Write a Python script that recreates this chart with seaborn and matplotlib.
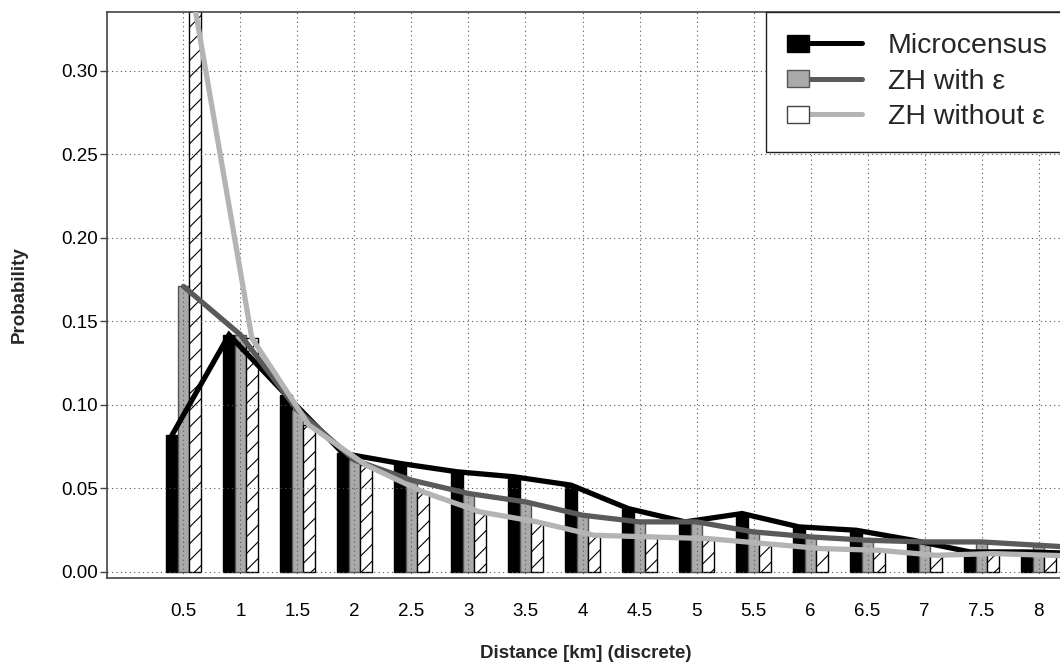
import numpy as np
import pandas as pd
import matplotlib
matplotlib.use("Agg")
import matplotlib.pyplot as plt
import seaborn as sns
from matplotlib.legend_handler import HandlerBase
from matplotlib.patches import Rectangle
from matplotlib.lines import Line2D

# ---------------- data ----------------
distance = [0.5, 1, 1.5, 2, 2.5, 3, 3.5, 4, 4.5, 5, 5.5, 6, 6.5, 7, 7.5, 8, 8.5]
tick_labels = ["0.5", "1", "1.5", "2", "2.5", "3", "3.5", "4", "4.5", "5",
               "5.5", "6", "6.5", "7", "7.5", "8", "8.5"]
microcensus = [0.082, 0.142, 0.106, 0.071, 0.065, 0.060, 0.057, 0.052, 0.038,
               0.030, 0.035, 0.027, 0.025, 0.019, 0.012, 0.012, 0.011]
zh_with_eps = [0.171, 0.142, 0.097, 0.067, 0.055, 0.047, 0.042, 0.034, 0.030,
               0.030, 0.024, 0.021, 0.019, 0.018, 0.018, 0.016, 0.014]
zh_without_eps = [0.338, 0.140, 0.088, 0.064, 0.048, 0.036, 0.030, 0.022, 0.021,
                  0.020, 0.017, 0.014, 0.013, 0.010, 0.011, 0.010, 0.009]
series_names = ["Microcensus", "ZH with ε", "ZH without ε"]
y_ticks = [0.00, 0.05, 0.10, 0.15, 0.20, 0.25, 0.30]
y_tick_labels = ["0.00", "0.05", "0.10", "0.15", "0.20", "0.25", "0.30"]

# ---------------- styling ----------------
bar_face = ["#000000", "#aaaaaa", "#ffffff"]
bar_edge = ["#000000", "#555555", "#000000"]
bar_hatch = [None, None, "//"]
line_colors = ["#000000", "#5a5a5a", "#b4b4b4"]
line_offsets = [-0.1, 0.0, 0.1]

sns.set_theme(style="white")
plt.rcParams["font.family"] = ["Liberation Sans", "DejaVu Sans"]
plt.rcParams["hatch.linewidth"] = 0.8
plt.rcParams["hatch.color"] = "black"

long = pd.DataFrame({
    "distance": distance * 3,
    "prob": microcensus + zh_with_eps + zh_without_eps,
    "series": [series_names[0]] * len(distance) + [series_names[1]] * len(distance)
              + [series_names[2]] * len(distance),
})

fig = plt.figure(figsize=(10.6, 6.68), dpi=100)
ax = fig.add_axes([107.3 / 1060, 90 / 668, (1065 - 107.3) / 1060, (578 - 12) / 668])

sns.barplot(data=long, x="distance", y="prob", hue="series", hue_order=series_names,
            native_scale=True, width=0.6, dodge=True, palette=bar_face,
            saturation=1, errorbar=None, legend=False, ax=ax)

for cont, fc, ec, h in zip(ax.containers, bar_face, bar_edge, bar_hatch):
    for p in cont.patches:
        p.set_facecolor(fc)
        p.set_edgecolor(ec)
        p.set_linewidth(1.0)
        p.set_zorder(1)
        if h:
            p.set_hatch(h)

for vals, col, off in zip([microcensus, zh_with_eps, zh_without_eps], line_colors, line_offsets):
    sns.lineplot(x=np.array(distance) + off, y=vals, color=col, linewidth=3.8,
                 ax=ax, zorder=3, solid_joinstyle="miter")

ax.set_xticks(distance)
ax.set_xticklabels(tick_labels)
ax.set_yticks(y_ticks)
ax.set_yticklabels(y_tick_labels)
ax.set_xlim(-0.168, 8.232)
ax.set_ylim(-0.0036, 0.3353)

ax.set_axisbelow(False)
ax.grid(True, color="#555555", linestyle=(0, (1, 3)), linewidth=0.8)
for gl in ax.get_xgridlines() + ax.get_ygridlines():
    gl.set_zorder(2)

for s in ["left", "bottom", "top", "right"]:
    ax.spines[s].set_color("#444444")
    ax.spines[s].set_linewidth(1.2)

ax.tick_params(axis="x", length=0, pad=18, labelsize=13.5, colors="black")
ax.tick_params(axis="y", length=5, width=1.0, pad=2, labelsize=13.5, colors="black",
               left=True, direction="out")
ax.tick_params(axis="y", color="#444444")

ax.set_xlabel("Distance [km] (discrete)", fontsize=13.5, fontweight="bold", labelpad=18)
ax.set_ylabel("Probability", fontsize=13.5, fontweight="bold", labelpad=24)


# ---------------- legend ----------------
class SqLine:
    def __init__(self, face, edge, line):
        self.face, self.edge, self.line = face, edge, line


class SqLineHandler(HandlerBase):
    def create_artists(self, legend, orig, xdescent, ydescent, width, height, fontsize, trans):
        sw, sh = 15.8, 12.2
        x0 = -xdescent
        cy = -ydescent + height / 2
        ln = Line2D([x0 + sw, x0 + width], [cy, cy], color=orig.line, linewidth=3.6,
                    solid_capstyle="round", transform=trans)
        sq = Rectangle((x0, cy - sh / 2), sw, sh, facecolor=orig.face, edgecolor=orig.edge,
                       linewidth=1.0, transform=trans)
        return [ln, sq]


handles = [SqLine(bar_face[i], bar_edge[i] if i != 2 else "#444444", line_colors[i]) for i in range(3)]
leg = ax.legend(handles, series_names, handler_map={SqLine: SqLineHandler()},
                loc="upper left", bbox_to_anchor=(766 / 1060, 1 - 12 / 668),
                bbox_transform=fig.transFigure, borderaxespad=0, fontsize=20.5,
                handlelength=2.63, handleheight=0.7, handletextpad=0.9,
                labelspacing=0.33, borderpad=0.75, fancybox=False, framealpha=1,
                edgecolor="#222222")
leg.get_frame().set_linewidth(1.0)
leg.set_zorder(5)

fig.savefig("out.png", dpi=100)
